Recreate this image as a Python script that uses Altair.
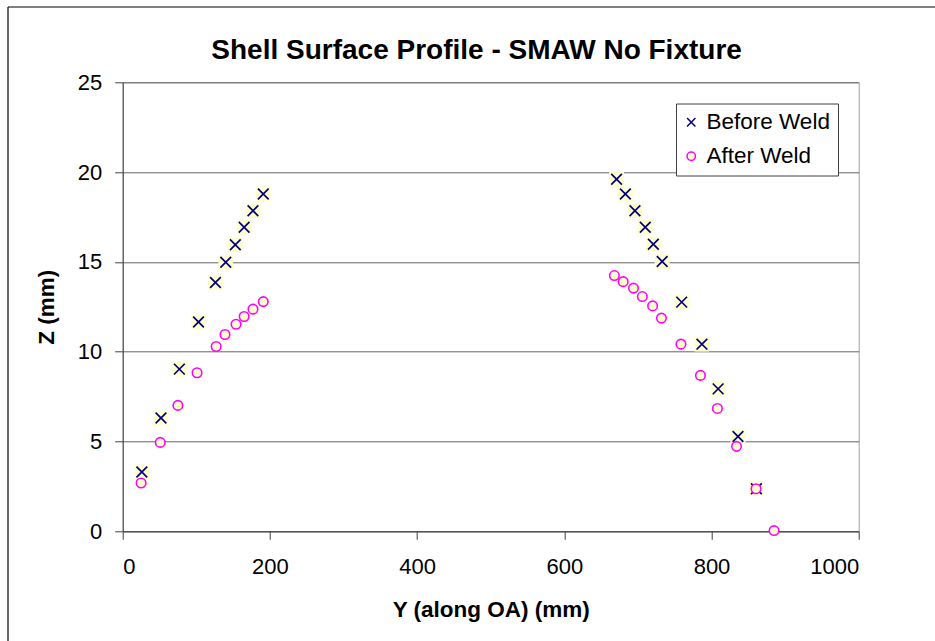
import altair as alt
import pandas as pd

# ---- data ----
before_y = [26, 52, 77, 103, 126, 140, 153, 165, 177, 191,
            671, 683, 696, 710, 721, 733, 759.5, 787, 809, 836, 861]
before_z = [3.30, 6.31, 9.03, 11.65, 13.85, 14.98, 15.95, 16.93, 17.85, 18.78,
            19.60, 18.78, 17.85, 16.93, 15.98, 15.02, 12.76, 10.42, 7.93, 5.28, 2.37]
after_y = [25, 51, 75, 101, 127, 139, 154, 165, 177, 191,
           668, 680, 694, 706, 720, 732, 758.5, 785, 808, 834, 860.5, 885]
after_z = [2.69, 4.95, 7.01, 8.83, 10.29, 10.96, 11.53, 11.96, 12.37, 12.79,
           14.24, 13.90, 13.54, 13.07, 12.55, 11.87, 10.42, 8.68, 6.84, 4.73, 2.37, 0.04]
series_names = ["Before Weld", "After Weld"]
x_ticks = [0, 200, 400, 600, 800, 1000]
y_ticks = [0, 5, 10, 15, 20, 25]
title_text = "Shell Surface Profile - SMAW No Fixture"

df_before = pd.DataFrame({"Y": before_y, "Z": before_z, "series": series_names[0]})
df_after = pd.DataFrame({"Y": after_y, "Z": after_z, "series": series_names[1]})

FONT = "Liberation Sans"
X_PATH = "M-1,-1L1,1M-1,1L1,-1"

xenc = alt.X("Y:Q", scale=alt.Scale(domain=[0, 1000], nice=False),
             axis=alt.Axis(values=x_ticks, format="d", title="Y (along OA) (mm)", grid=False,
                           labelFontSize=22, labelFont=FONT, labelColor="black",
                           labelPadding=17, tickSize=8, tickColor="#404040",
                           domainColor="#404040", titleFont=FONT, titleFontSize=22.5,
                           titleFontWeight="bold", titleColor="black",
                           titleY=85.3, titleBaseline="alphabetic"))
yenc = alt.Y("Z:Q", scale=alt.Scale(domain=[0, 25], nice=False),
             axis=alt.Axis(values=y_ticks, format="d", title="Z (mm)", grid=True,
                           gridColor="#666666",
                           labelFontSize=22, labelFont=FONT, labelColor="black",
                           labelPadding=13, tickSize=8, tickColor="#404040",
                           domainColor="#404040", titleFont=FONT, titleFontSize=22.5,
                           titleFontWeight="bold", titleColor="black",
                           titleX=-69.4, titleY=224.5, titleAngle=270,
                           titleAlign="center", titleBaseline="alphabetic"))

shape_scale = alt.Scale(domain=series_names, range=[X_PATH, "circle"])
stroke_scale = alt.Scale(domain=series_names, range=["#000080", "#FF00FF"])
legend = alt.Legend(title=None, orient="none", legendX=553.3, legendY=21.2,
                    fillColor="white", strokeColor="#404040", padding=7.5,
                    labelFont=FONT, labelFontSize=22.5, labelColor="black",
                    symbolSize=70, symbolFillColor="#FFFFCC", symbolOffset=-3.5,
                    symbolStrokeWidth=1.5, labelOffset=4, rowPadding=11)

squares = alt.Chart(df_before).mark_point(
    shape="square", filled=True, fill="#FFFFCC", strokeWidth=0, size=220, opacity=1
).encode(x=xenc, y=yenc)

crosses = alt.Chart(df_before).mark_point(
    filled=False, fill="#FFFFCC", fillOpacity=1, strokeWidth=1.7, opacity=1, size=115
).encode(
    x=xenc, y=yenc,
    shape=alt.Shape("series:N", scale=shape_scale, legend=legend),
    stroke=alt.Stroke("series:N", scale=stroke_scale, legend=legend),
)

circles = alt.Chart(df_after).mark_point(
    filled=False, fill="#FFFFCC", fillOpacity=1, strokeWidth=1.6, opacity=1, size=90
).encode(
    x=xenc, y=yenc,
    shape=alt.Shape("series:N", scale=shape_scale, legend=legend),
    stroke=alt.Stroke("series:N", scale=stroke_scale, legend=legend),
)

frame_df = pd.DataFrame({"k": [0]})
frame_left = alt.Chart(frame_df).mark_rule(color="black", strokeWidth=1.2).encode(
    x=alt.value(-114.7), y=alt.value(-75.3), y2=alt.value(620))
frame_top = alt.Chart(frame_df).mark_rule(color="black", strokeWidth=1.2).encode(
    x=alt.value(-114.7), x2=alt.value(900), y=alt.value(-75.3))
title = alt.Chart(frame_df).mark_text(
    text=title_text, font=FONT, fontSize=28, fontWeight="bold", color="black",
    align="center", baseline="alphabetic"
).encode(x=alt.value(353.9), y=alt.value(-23.3))

chart = alt.layer(frame_left, frame_top, title, squares, crosses, circles).properties(
    width=736, height=449,
    autosize=alt.AutoSizeParams(type="none"),
    padding={"left": 122.7, "top": 82.3, "right": 76.3, "bottom": 109.7},
    background="white",
).configure_view(stroke="#a0a0a0", strokeWidth=1)

chart.save("out.html", embed_options={"renderer": "svg", "actions": False})
